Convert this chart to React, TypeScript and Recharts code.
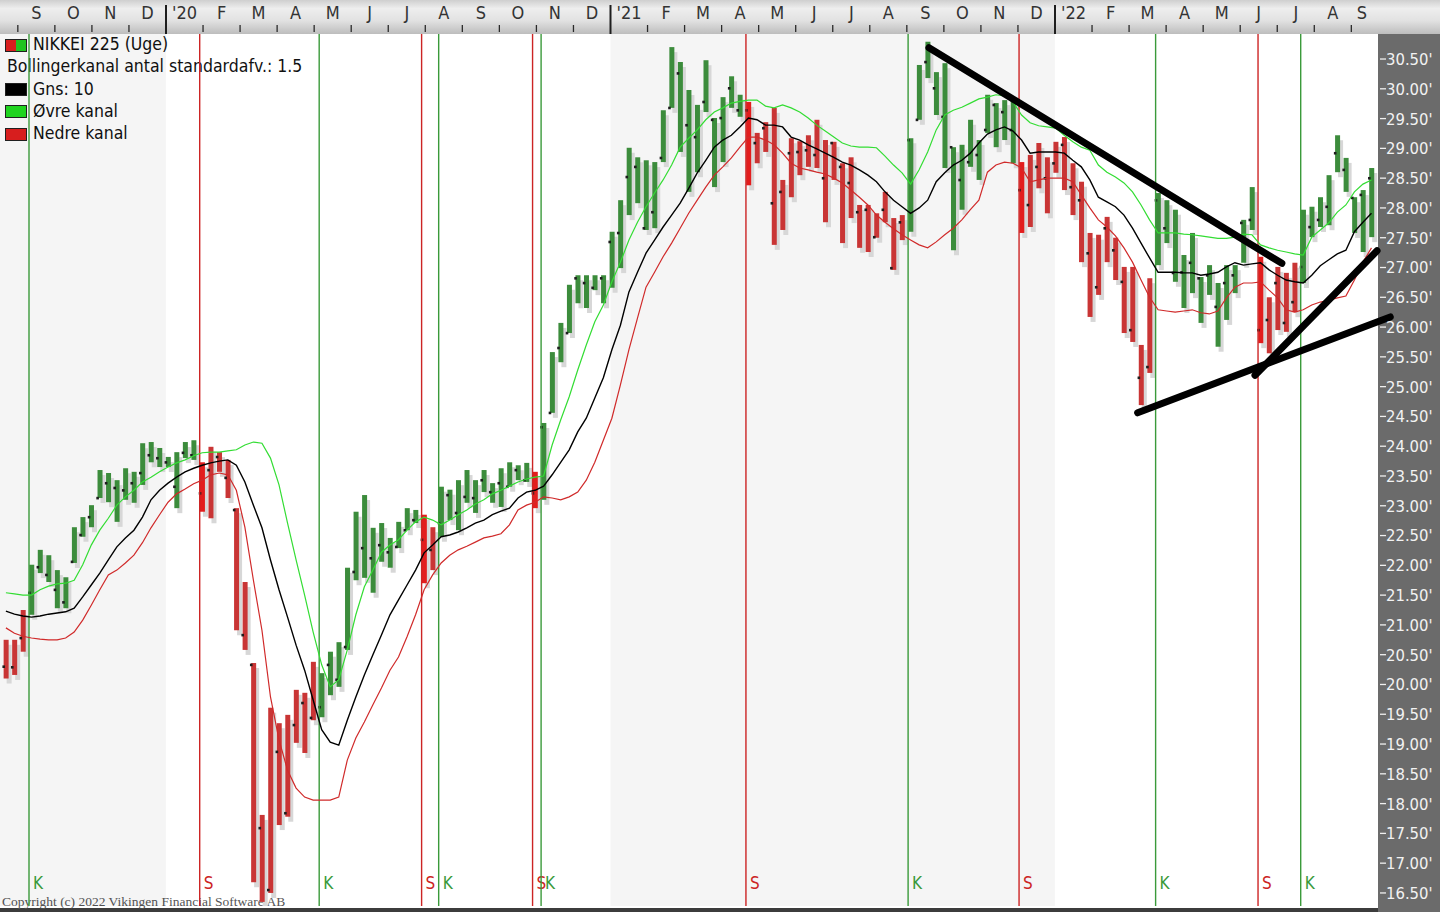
import React from 'react';
import {
  ComposedChart,
  Bar,
  Line,
  XAxis,
  YAxis,
  ReferenceLine,
  ReferenceArea,
  CartesianGrid,
} from 'recharts';

// ---------- DATA (weekly NIKKEI 225, in thousands) ----------
const highs = [
  20.75, 20.75, 21.25, 22.01, 22.26, 22.17, 21.92, 21.8, 22.64, 22.81,
  23.01, 23.6, 23.55, 23.43, 23.63, 23.57, 24.05, 24.07, 23.97, 23.82,
  23.9, 24.07, 24.1, 23.73, 23.99, 23.9, 23.77, 22.96, 21.72, 20.36,
  17.81, 19.61, 19.35, 19.49, 19.91, 19.86, 20.38, 20.19, 20.55, 20.71,
  21.96, 22.9, 23.18, 22.63, 22.71, 22.46, 22.73, 22.96, 22.93, 22.85,
  22.64, 23.32, 23.27, 23.43, 23.6, 23.43, 23.6, 23.38, 23.63, 23.73,
  23.68, 23.72, 23.57, 24.39, 25.58, 26.07, 26.71, 26.87, 26.87, 26.87,
  26.87, 27.6, 28.13, 29.01, 28.85, 28.8, 28.77, 29.64, 30.7, 30.45,
  29.98, 29.73, 30.48, 29.51, 29.86, 30.21, 29.9, 29.78, 29.26, 29.44,
  29.68, 28.47, 29.17, 29.12, 29.22, 29.48, 29.14, 29.11, 28.75, 28.85,
  28.05, 28.05, 27.91, 28.27, 27.83, 27.88, 29.17, 30.4, 30.79, 30.28,
  30.43, 29.02, 29.06, 29.48, 29.14, 29.9, 29.76, 29.81, 29.81, 28.77,
  28.89, 29.09, 28.85, 29.11, 29.19, 28.75, 28.44, 27.58, 27.55, 27.85,
  27.5, 27.01, 27.01, 25.7, 26.82, 28.25, 28.13, 27.97, 27.21, 27.58,
  26.84, 27.04, 26.74, 27.04, 27.04, 27.8, 28.35, 27.18, 26.5, 27.01,
  26.91, 27.08, 27.97, 28.02, 28.18, 28.55, 29.22, 28.84, 28.18, 28.3,
  28.67,
];

const lows = [
  20.1, 20.16, 20.55, 21.17, 21.87, 21.72, 21.28, 21.28, 22.04, 22.48,
  22.64, 23.13, 23.06, 22.73, 23.1, 23.05, 23.35, 23.73, 23.65, 23.65,
  22.96, 23.8, 23.77, 22.9, 22.79, 23.57, 23.13, 20.91, 20.58, 16.68,
  16.35, 16.5, 17.64, 17.78, 19.02, 18.85, 19.4, 19.45, 19.82, 19.96,
  20.58, 21.75, 21.79, 21.54, 22.06, 21.96, 22.29, 22.59, 22.71, 21.7,
  21.92, 22.48, 22.76, 22.59, 23.05, 22.88, 23.23, 23.05, 22.98, 23.32,
  23.43, 23.4, 22.96, 23.1, 24.56, 25.41, 25.9, 26.4, 26.32, 26.62,
  26.4, 26.66, 26.99, 27.88, 28.08, 27.63, 27.66, 28.77, 29.68, 28.94,
  28.27, 28.6, 29.61, 28.35, 28.77, 29.68, 29.53, 28.38, 28.75, 28.94,
  27.38, 27.63, 28.18, 28.55, 28.69, 28.67, 27.76, 28.47, 27.41, 27.83,
  27.33, 27.26, 27.5, 27.76, 26.96, 27.46, 27.6, 29.48, 30.18, 29.56,
  28.67, 27.29, 27.97, 28.69, 28.47, 29.26, 29.02, 29.14, 28.75, 27.58,
  27.68, 28.33, 27.91, 28.59, 28.3, 27.88, 27.09, 26.17, 26.54, 27.09,
  26.79, 25.9, 25.75, 24.69, 25.23, 27.04, 27.41, 26.76, 26.32, 26.57,
  26.07, 26.54, 25.67, 26.12, 26.57, 27.08, 27.63, 25.73, 25.56, 25.95,
  25.92, 26.25, 26.74, 27.51, 27.68, 27.71, 28.6, 28.27, 27.58, 27.26,
  27.51,
];

const opens = [
  20.3, 20.29, 20.78, 21.54, 21.97, 21.84, 21.59, 21.38, 22.06, 22.51,
  22.81, 23.13, 23.38, 23.3, 23.26, 23.38, 23.55, 23.85, 23.8, 23.73,
  23.32, 23.89, 23.85, 23.21, 23.6, 23.82, 23.47, 22.93, 20.83, 20.33,
  17.59, 16.55, 18.87, 17.84, 19.32, 19.69, 19.44, 19.62, 20.33, 20.08,
  20.63, 21.89, 22.29, 22.12, 22.34, 22.22, 22.31, 22.59, 22.76, 22.43,
  22.26, 22.71, 23.18, 22.88, 23.15, 23.13, 23.43, 23.23, 23.38, 23.32,
  23.6, 23.43, 23.21, 24.32, 24.56, 25.65, 25.9, 26.82, 26.74, 26.66,
  26.82, 27.43, 27.58, 28.52, 28.69, 27.66, 27.93, 28.84, 29.68, 30.26,
  29.39, 29.19, 29.78, 29.48, 29.51, 30.01, 29.64, 29.64, 29.09, 29.34,
  28.08, 28.27, 28.92, 28.94, 28.97, 28.89, 28.5, 29.09, 28.69, 28.42,
  27.93, 27.97, 27.51, 27.97, 26.99, 27.76, 29.14, 29.48, 30.45, 30.01,
  29.53, 29.02, 28.47, 28.77, 28.89, 29.31, 29.73, 29.61, 29.31, 28.3,
  28.05, 28.69, 28.5, 28.75, 29.06, 28.35, 28.13, 27.24, 26.67, 27.66,
  27.29, 26.76, 25.95, 25.15, 25.33, 28.13, 27.66, 26.91, 26.92, 27.08,
  26.82, 26.87, 26.34, 26.74, 26.87, 27.75, 27.8, 25.95, 26.12, 26.74,
  26.07, 26.42, 27.01, 27.68, 27.8, 28.02, 28.92, 28.64, 28.17, 28.22,
  28.5,
];

const gnsLine = [
  21.23, 21.18, 21.15, 21.13, 21.15, 21.18, 21.2, 21.22, 21.28, 21.47,
  21.67, 21.87, 22.09, 22.31, 22.46, 22.59, 22.81, 23.1, 23.26, 23.38,
  23.48, 23.57, 23.63, 23.68, 23.72, 23.75, 23.77, 23.68, 23.4, 23.01,
  22.63, 22.09, 21.59, 21.13, 20.66, 20.24, 19.74, 19.24, 19.03, 18.98,
  19.4, 19.79, 20.16, 20.5, 20.83, 21.17, 21.42, 21.67, 21.92, 22.21,
  22.34, 22.48, 22.51, 22.56, 22.63, 22.71, 22.76, 22.85, 22.91, 22.96,
  23.13, 23.23, 23.26, 23.33, 23.52, 23.73, 23.94, 24.24, 24.47, 24.81,
  25.15, 25.62, 26.03, 26.59, 26.92, 27.24, 27.46, 27.68, 27.88, 28.08,
  28.33, 28.59, 28.8, 29.02, 29.14, 29.22, 29.36, 29.51, 29.48, 29.39,
  29.39, 29.36, 29.19, 29.14, 29.06, 28.99, 28.92, 28.85, 28.77, 28.72,
  28.64, 28.55, 28.44, 28.27, 28.13, 28.02, 27.91, 28.0, 28.13, 28.44,
  28.59, 28.72, 28.8, 28.92, 29.09, 29.24, 29.31, 29.36, 29.29, 29.14,
  28.92, 28.94, 28.94, 28.94, 28.92, 28.8, 28.69, 28.47, 28.18, 28.1,
  28.02, 27.88, 27.66, 27.41, 27.16, 26.92, 26.92, 26.92, 26.91, 26.91,
  26.87, 26.89, 26.92, 27.01, 27.08, 27.04, 27.06, 27.08, 26.96, 26.87,
  26.79, 26.76, 26.74, 26.87, 27.03, 27.13, 27.23, 27.29, 27.6, 27.76,
  27.91,
];

const upperBand = [
  21.54, 21.52, 21.5, 21.5, 21.59, 21.65, 21.69, 21.7, 21.75, 22.01,
  22.34, 22.59, 22.79, 23.01, 23.15, 23.26, 23.4, 23.48, 23.57, 23.65,
  23.72, 23.77, 23.84, 23.89, 23.9, 23.9, 23.92, 23.94, 24.02, 24.07,
  24.05, 23.8, 23.35, 22.71, 22.09, 21.5, 20.88, 20.33, 19.96, 20.08,
  20.58, 21.17, 21.64, 21.92, 22.22, 22.34, 22.43, 22.59, 22.73, 22.81,
  22.76, 22.68, 22.76, 22.85, 22.93, 23.03, 23.1, 23.2, 23.26, 23.33,
  23.4, 23.45, 23.48, 23.5, 24.02, 24.44, 24.83, 25.28, 25.7, 26.09,
  26.37, 26.76, 27.09, 27.46, 27.76, 28.02, 28.25, 28.47, 28.72, 29.02,
  29.17, 29.31, 29.48, 29.61, 29.68, 29.76, 29.79, 29.81, 29.81, 29.71,
  29.68, 29.73, 29.68, 29.61, 29.51, 29.39, 29.29, 29.19, 29.09, 29.04,
  29.02, 29.02, 29.01, 28.87, 28.72, 28.59, 28.4, 28.64, 28.94, 29.31,
  29.56, 29.64, 29.69, 29.76, 29.83, 29.86, 29.9, 29.88, 29.78, 29.56,
  29.43, 29.38, 29.36, 29.34, 29.22, 29.11, 29.02, 28.97, 28.72, 28.6,
  28.52, 28.42, 28.27, 28.05, 27.8, 27.58, 27.58, 27.58, 27.56, 27.55,
  27.53, 27.51, 27.49, 27.49, 27.51, 27.56, 27.55, 27.38, 27.33, 27.29,
  27.26, 27.23, 27.21, 27.51, 27.63, 27.75, 27.93, 28.05, 28.27, 28.4,
  28.47,
];

const lowerBand = [
  20.95, 20.86, 20.81, 20.78, 20.76, 20.75, 20.75, 20.78, 20.88, 21.08,
  21.33, 21.59, 21.84, 21.92, 22.04, 22.17, 22.38, 22.63, 22.85, 23.06,
  23.2, 23.28, 23.37, 23.43, 23.52, 23.55, 23.52, 23.26, 22.64, 21.75,
  20.91, 19.79, 19.07, 18.56, 18.26, 18.11, 18.06, 18.06, 18.06, 18.11,
  18.73, 19.1, 19.37, 19.66, 19.94, 20.24, 20.46, 20.8, 21.17, 21.59,
  21.84, 22.04, 22.17, 22.26, 22.32, 22.39, 22.46, 22.49, 22.53, 22.68,
  22.93, 23.01, 23.06, 23.15, 23.13, 23.1, 23.15, 23.23, 23.43, 23.73,
  24.1, 24.47, 25.03, 25.62, 26.15, 26.67, 26.92, 27.18, 27.41, 27.66,
  27.91, 28.13, 28.35, 28.55, 28.69, 28.84, 29.02, 29.19, 29.19, 29.14,
  29.06, 28.92, 28.75, 28.67, 28.64, 28.6, 28.57, 28.5, 28.42, 28.3,
  28.18, 28.05, 27.88, 27.76, 27.65, 27.55, 27.46, 27.38, 27.33, 27.43,
  27.55, 27.66, 27.8, 27.97, 28.13, 28.6, 28.72, 28.77, 28.75, 28.67,
  28.44, 28.47, 28.5, 28.5, 28.5, 28.44, 28.22, 28.0, 27.8, 27.68,
  27.53, 27.33, 27.09, 26.79, 26.5, 26.29, 26.27, 26.25, 26.27, 26.29,
  26.24, 26.22, 26.27, 26.49, 26.67, 26.74, 26.74, 26.76, 26.62, 26.49,
  26.29, 26.25, 26.29, 26.37, 26.42, 26.45, 26.49, 26.52, 26.79, 27.09,
  27.33,
];

// K = køb (buy), S = salg (sell)
const signalWeeks = [3, 23, 37, 49, 51, 62, 63, 87, 106, 119, 135, 147, 152];
const signalTypes = ['K', 'S', 'K', 'S', 'K', 'S', 'K', 'S', 'K', 'S', 'K', 'S', 'K'];

const monthLabels = [
  'S', 'O', 'N', 'D',
  "'20", 'F', 'M', 'A', 'M', 'J', 'J', 'A', 'S', 'O', 'N', 'D',
  "'21", 'F', 'M', 'A', 'M', 'J', 'J', 'A', 'S', 'O', 'N', 'D',
  "'22", 'F', 'M', 'A', 'M', 'J', 'J', 'A', 'S',
];

const priceTicks = [
  16.5, 17, 17.5, 18, 18.5, 19, 19.5, 20, 20.5, 21, 21.5, 22, 22.5, 23, 23.5,
  24, 24.5, 25, 25.5, 26, 26.5, 27, 27.5, 28, 28.5, 29, 29.5, 30, 30.5,
];
const gridPrices = [20, 25, 30];

// hand-drawn trend lines: [week, price] endpoints
const trendFromWeek = [108.15, 132.6, 146.35];
const trendFromPrice = [30.69, 24.56, 25.19];
const trendToWeek = [149.5, 162.2, 160.65];
const trendToPrice = [27.07, 26.17, 27.28];

const legendLabels = [
  'NIKKEI 225 (Uge)',
  'Bollingerkanal antal standardafv.: 1.5',
  'Gns: 10',
  'Øvre kanal',
  'Nedre kanal',
];

// ---------- LAYOUT ----------
const W = 1440;
const H = 912;
const AXIS_W = 62;
const TOP_H = 34;
const BOTTOM_M = 6;
const PLOT_W = W - AXIS_W;
const X_MIN = -0.691;
const X_MAX = 160.763;
const Y_MIN = 16.281;
const Y_MAX = 30.92;
const PX_PER_WEEK = PLOT_W / (X_MAX - X_MIN);
const BAR_W = 5;
const JAN2020 = 18.758; // week position of 1 Jan 2020
const MONTH_W = 4.34; // weeks per month
const FIRST_MONTH = -4; // Sept 2019 relative to Jan 2020
const FONT = '"Liberation Sans Narrow", "Arial Narrow", "DejaVu Sans Condensed", sans-serif';

const GREEN = '#3c8c3c';
const RED = '#c93535';
const RED_SIGNAL = '#e31d1d';

const colorFor = (i: number) => {
  let state = 'S';
  let at = -1;
  signalWeeks.forEach((w, k) => {
    if (w <= i) {
      state = signalTypes[k];
      at = w;
    }
  });
  if (state === 'K') return GREEN;
  return at === i ? RED_SIGNAL : RED;
};

const data = highs.map((h, i) => ({
  week: i,
  hl: [lows[i], h],
  high: h,
  low: lows[i],
  open: opens[i],
  mid: gnsLine[i],
  upper: upperBand[i],
  lower: lowerBand[i],
  color: colorFor(i),
}));

const monthMids = monthLabels.map((_, idx) => JAN2020 + (idx + FIRST_MONTH + 0.5) * MONTH_W);
const yearStarts = [0, 12, 24].map((m) => JAN2020 + m * MONTH_W);

const OhlcShape = (props: any) => {
  const { x, y, width, height, payload } = props;
  if (x == null || y == null || height == null || !payload) return null;
  const top = Math.min(y, y + height);
  const h = Math.abs(height);
  const range = payload.high - payload.low || 1;
  const oy = top + ((payload.high - payload.open) / range) * h;
  return (
    <g>
      <rect x={x + 3} y={top + 5} width={width} height={h} fill="#d7d7d7" />
      <rect x={x} y={top} width={width} height={h} fill={payload.color} />
      <rect x={x - 1.2} y={oy - 1.2} width={2.6} height={2.6} fill="#1e1e1e" />
    </g>
  );
};

const MonthTick = (props: any) => {
  const { x, payload } = props;
  const idx = Math.round((payload.value - JAN2020) / MONTH_W - 0.5) - FIRST_MONTH;
  const label = monthLabels[idx];
  if (label == null) return null;
  const bx = x - (MONTH_W * PX_PER_WEEK) / 2;
  const isYear = label.startsWith("'");
  const tx = Math.min(x, PLOT_W - 16);
  return (
    <g>
      {isYear ? (
        <line x1={bx} x2={bx} y1={5} y2={TOP_H} stroke="#1e1e1e" strokeWidth={2} />
      ) : (
        <line x1={bx} x2={bx} y1={25} y2={32} stroke="#2a2a2a" strokeWidth={1.3} />
      )}
      <text
        x={tx}
        y={19}
        textAnchor="middle"
        fontFamily={FONT}
        fontSize={18}
        fill="#333"
      >
        {label}
      </text>
    </g>
  );
};

const PriceTick = (props: any) => {
  const { y, payload } = props;
  return (
    <g>
      <line x1={PLOT_W + 2} x2={PLOT_W + 8} y1={y} y2={y} stroke="#f0f0f0" strokeWidth={1.3} />
      <text
        x={PLOT_W + 8}
        y={y}
        dy="0.36em"
        fontFamily={FONT}
        fontSize={16.5}
        fill="#f2f2f2"
      >
        {payload.value.toFixed(2)}'
      </text>
    </g>
  );
};

const SignalLabel = (props: any) => {
  const { viewBox, text, color } = props;
  if (!viewBox) return null;
  return (
    <text x={viewBox.x + 4} y={H - BOTTOM_M - 17} fontFamily={FONT} fontSize={17} fill={color}>
      {text}
    </text>
  );
};

const LegendBox = ({ colors }: { colors: string[] }) => (
  <span
    style={{
      display: 'inline-flex',
      width: 20,
      height: 11,
      border: '1px solid #222',
      marginRight: 6,
      verticalAlign: 'middle',
    }}
  >
    {colors.map((c, k) => (
      <span key={k} style={{ flex: 1, background: c }} />
    ))}
  </span>
);

const legendColors: (string[] | null)[] = [
  ['#e02020', '#22cc22'],
  null,
  ['#000000'],
  ['#22dd22'],
  ['#e02020'],
];

export default function App() {
  return (
    <div
      style={{
        position: 'absolute',
        left: 0,
        top: 0,
        width: W,
        height: H,
        overflow: 'hidden',
        background: '#fff',
        fontFamily: FONT,
      }}
    >
      {/* top time band */}
      <div
        style={{
          position: 'absolute',
          left: 0,
          top: 0,
          width: W,
          height: TOP_H,
          background: 'linear-gradient(#cfcfcf 0%, #eeeeee 25%, #e2e2e2 60%, #bdbdbd 100%)',
        }}
      />
      {/* right price panel */}
      <div
        style={{
          position: 'absolute',
          left: PLOT_W,
          top: TOP_H,
          width: AXIS_W,
          height: H - TOP_H,
          background: '#6b6b6b',
        }}
      />
      {/* bottom border */}
      <div
        style={{
          position: 'absolute',
          left: 0,
          top: H - 4,
          width: PLOT_W,
          height: 4,
          background: '#3c3c3c',
        }}
      />
      {/* legend */}
      <div
        style={{
          position: 'absolute',
          left: 5,
          top: 33,
          fontSize: 17.5,
          lineHeight: '22.3px',
          color: '#111',
          whiteSpace: 'nowrap',
        }}
      >
        {legendLabels.map((t, k) => (
          <div key={k} style={{ height: 22.3, marginLeft: legendColors[k] ? 0 : 2 }}>
            {legendColors[k] ? <LegendBox colors={legendColors[k] as string[]} /> : null}
            {t}
          </div>
        ))}
      </div>
      {/* copyright */}
      <div
        style={{
          position: 'absolute',
          left: 2,
          top: 895,
          fontFamily: '"Liberation Serif", "DejaVu Serif", serif',
          fontSize: 13.5,
          lineHeight: '14px',
          color: '#555',
          whiteSpace: 'nowrap',
        }}
      >
        Copyright (c) 2022 Vikingen Financial Software AB
      </div>

      <div style={{ position: 'absolute', left: 0, top: 0 }}>
        <ComposedChart
          width={W}
          height={H}
          data={data}
          margin={{ top: 0, right: 0, bottom: BOTTOM_M, left: 0 }}
        >
          <CartesianGrid
            stroke="#c6c6c6"
            strokeWidth={1.6}
            horizontalCoordinatesGenerator={(args: any) =>
              args && args.yAxis && typeof args.yAxis.scale === 'function'
                ? gridPrices.map((p) => args.yAxis.scale(p))
                : []
            }
            verticalCoordinatesGenerator={(args: any) =>
              args && args.xAxis && typeof args.xAxis.scale === 'function'
                ? yearStarts.map((w) => args.xAxis.scale(w))
                : []
            }
          />
          <XAxis
            dataKey="week"
            type="number"
            orientation="top"
            domain={[X_MIN, X_MAX]}
            allowDataOverflow
            height={TOP_H}
            ticks={monthMids}
            interval={0}
            axisLine={false}
            tickLine={false}
            tick={<MonthTick />}
          />
          <YAxis
            type="number"
            orientation="right"
            domain={[Y_MIN, Y_MAX]}
            allowDataOverflow
            width={AXIS_W}
            ticks={priceTicks}
            interval={0}
            axisLine={false}
            tickLine={false}
            tick={<PriceTick />}
          />
          <ReferenceArea
            x1={X_MIN}
            x2={yearStarts[0]}
            fill="#000"
            fillOpacity={0.04}
            strokeWidth={0}
            ifOverflow="hidden"
          />
          <ReferenceArea
            x1={yearStarts[1]}
            x2={yearStarts[2]}
            fill="#000"
            fillOpacity={0.04}
            strokeWidth={0}
            ifOverflow="hidden"
          />
          {signalWeeks.map((w, k) => {
            const color = signalTypes[k] === 'K' ? '#3a9a3a' : '#cc2424';
            return (
              <ReferenceLine
                key={'sig' + k}
                x={w - BAR_W / 2 / PX_PER_WEEK}
                stroke={color}
                strokeWidth={1.4}
                label={<SignalLabel text={signalTypes[k]} color={color} />}
              />
            );
          })}
          <Bar
            dataKey="hl"
            barSize={BAR_W}
            shape={<OhlcShape />}
            isAnimationActive={false}
          />
          <Line
            dataKey="upper"
            type="linear"
            stroke="#33dd33"
            strokeWidth={1.2}
            dot={false}
            activeDot={false}
            isAnimationActive={false}
          />
          <Line
            dataKey="lower"
            type="linear"
            stroke="#d02a2a"
            strokeWidth={1.2}
            dot={false}
            activeDot={false}
            isAnimationActive={false}
          />
          <Line
            dataKey="mid"
            type="linear"
            stroke="#000"
            strokeWidth={1.4}
            dot={false}
            activeDot={false}
            isAnimationActive={false}
          />
          {trendFromWeek.map((w, k) => (
            <ReferenceLine
              key={'trend' + k}
              segment={[
                { x: w, y: trendFromPrice[k] },
                { x: trendToWeek[k], y: trendToPrice[k] },
              ]}
              stroke="#000"
              strokeWidth={7}
              strokeLinecap="round"
              ifOverflow="visible"
            />
          ))}
        </ComposedChart>
      </div>
    </div>
  );
}
